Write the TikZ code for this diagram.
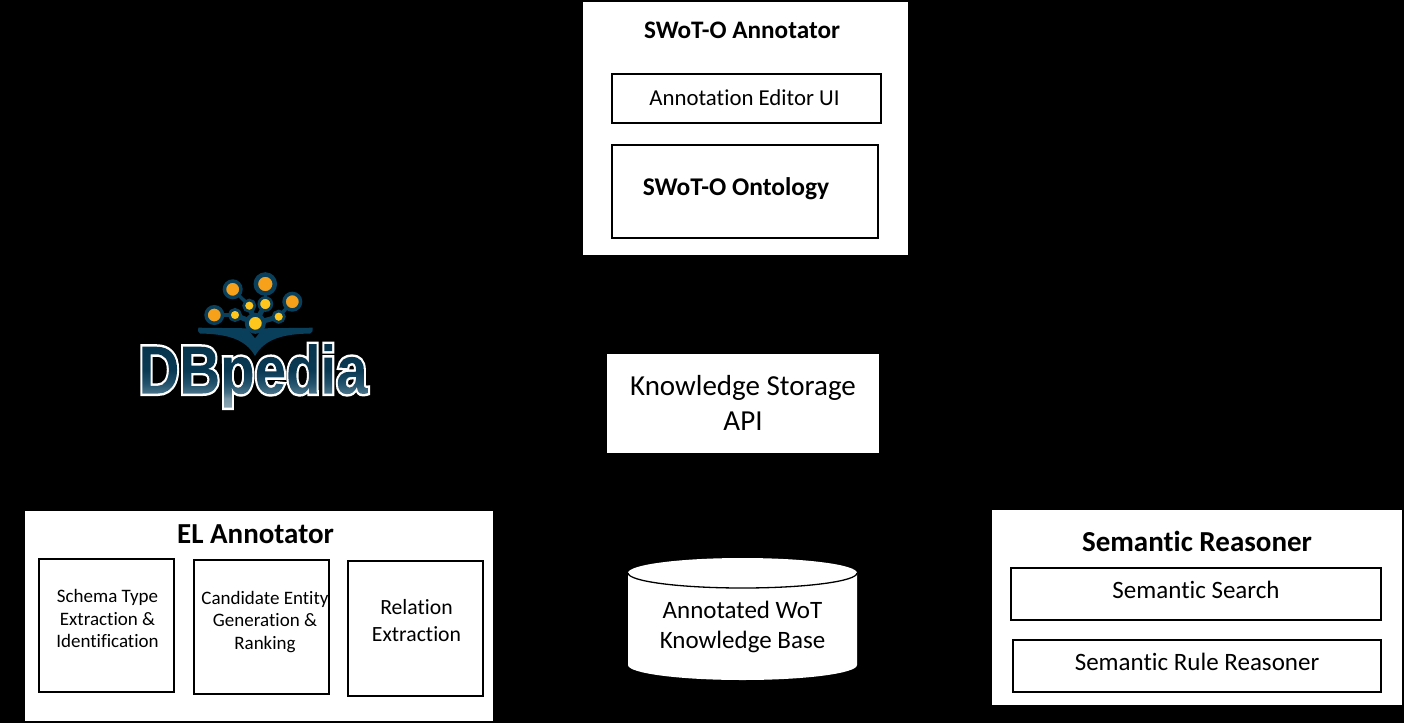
\documentclass[tikz,border=0pt]{standalone}
\usepackage{fontspec}
\setmainfont{Carlito}[Ligatures=CommonOff]
\newfontfamily\logofont{Liberation Sans}
\definecolor{halo}{HTML}{0A3F5C}
\definecolor{orangedot}{HTML}{F7A11B}
\definecolor{yellowdot}{HTML}{FFC71E}
\pgfdeclareverticalshading{dbpshade}{300pt}{color(0pt)=(halo!45!white); color(12pt)=(halo!55!white); color(18pt)=(halo!75!white); color(27pt)=(halo!90!white); color(40pt)=(halo!90!black); color(80pt)=(halo!80!black)}
\tikzset{
  panelbox/.style={fill=white,inner sep=0pt,outer sep=0pt,anchor=north west},
  framebox/.style={draw=black,line width=2pt,fill=white,inner sep=0pt,outer sep=0pt,anchor=north west},
  title/.style={font=\bfseries\fontsize{25.2}{30}\selectfont,inner sep=0pt,text=black},
  bigtitle/.style={font=\bfseries\fontsize{29}{34}\selectfont,inner sep=0pt,text=black},
  label/.style={font=\fontsize{22.8}{27}\selectfont,inner sep=0pt,text=black,align=center},
  small/.style={font=\fontsize{19}{22.5}\selectfont,inner sep=0pt,text=black,align=center},
  big/.style={font=\fontsize{29}{35}\selectfont,inner sep=0pt,text=black,align=center},
  bigdot/.style={circle,fill=orangedot,draw=halo,line width=3.5pt,minimum size=16.5pt,inner sep=0pt},
  smalldot/.style={circle,fill=yellowdot,draw=halo,line width=2.7pt,minimum size=11.3pt,inner sep=0pt},
}
\begin{document}
\begin{tikzpicture}[x=1pt,y=-1pt]
\useasboundingbox (0,0) rectangle (1404,723);
\fill[black] (0,0) rectangle (1404,723);

% SWoT-O annotator
\node[panelbox,minimum width=325pt,minimum height=253pt] (swot) at (583,2) {};
\node[title] (swottitle) at (742,30) {SWoT-O Annotator};
\node[framebox,minimum width=269pt,minimum height=49pt] (editor) at (612,74) {};
\node[label] (editortext) at (744.5,98) {Annotation Editor UI};
\node[framebox,minimum width=266pt,minimum height=93pt] (onto) at (612,145) {};
\node[title,font=\bfseries\fontsize{25.5}{30}\selectfont] (ontotext) at (736,188.5) {SWoT-O Ontology};

% Knowledge storage
\node[panelbox,minimum width=272pt,minimum height=99pt] (storage) at (607,354) {};
\node[big] (storagetext) at (743,403) {Knowledge Storage\\API};

% EL annotator
\node[panelbox,minimum width=468pt,minimum height=210pt] (el) at (25,511) {};
\node[bigtitle] (eltitle) at (255.5,534.5) {EL Annotator};
\node[framebox,minimum width=135pt,minimum height=133pt] (schema) at (39,559) {};
\node[small] (schematext) at (107.5,618.5) {Schema Type\\Extraction \&\\Identification};
\node[framebox,minimum width=135pt,minimum height=134pt] (cand) at (194,560) {};
\node[small] (candtext) at (265,622) {Candidate Entity\\Generation \&\\Ranking};
\node[framebox,minimum width=135pt,minimum height=135pt] (rel) at (348,561) {};
\node[label,font=\fontsize{21.7}{27}\selectfont] (reltext) at (416.5,621) {Relation\\Extraction};

% Semantic reasoner
\node[panelbox,minimum width=410pt,minimum height=195pt] (sr) at (992,510) {};
\node[bigtitle] (srtitle) at (1197,541) {Semantic Reasoner};
\node[framebox,minimum width=370pt,minimum height=52pt] (search) at (1011,568) {};
\node[label,font=\fontsize{25}{30}\selectfont] (searchtext) at (1196,590) {Semantic Search};
\node[framebox,minimum width=368pt,minimum height=52pt] (rule) at (1013,640) {};
\node[label,font=\fontsize{25}{30}\selectfont] (ruletext) at (1197,661.5) {Semantic Rule Reasoner};

% Knowledge base cylinder
\fill[white] (628,573) arc[start angle=180,end angle=0,x radius=114.5pt,y radius=15pt] -- (857,665) arc[start angle=0,end angle=-180,x radius=114.5pt,y radius=15pt] -- cycle;
\draw[black,line width=1.3pt] (628,573) arc[start angle=180,end angle=360,x radius=114.5pt,y radius=15pt];
\node[label,font=\fontsize{25}{29.5}\selectfont] (kb) at (742.5,627) {Annotated WoT\\Knowledge Base};

% DBpedia logo
\coordinate (hub) at (255.3,323.3);
\coordinate (c1) at (232.7,289.3);
\coordinate (c2) at (265.3,284);
\coordinate (c3) at (292.3,301.7);
\coordinate (c4) at (214.3,315);
\coordinate (c5) at (249.3,305.7);
\coordinate (c6) at (265.3,304);
\coordinate (c7) at (235,315);
\coordinate (c8) at (278.7,316.7);
\foreach \a/\b in {c1/c5,c2/c6,c3/c8,c4/c7} \draw[halo,line width=3.5pt] (\a) -- (\b);
\foreach \a in {c5,c6,c7,c8} \draw[halo,line width=5pt] (\a) -- (hub);
\node[circle,fill=yellowdot,draw=halo,line width=4pt,minimum size=17pt,inner sep=0pt] (d9) at (hub) {};
\node[bigdot] (d1) at (c1) {};
\node[bigdot,minimum size=19pt,line width=4.5pt] (d2) at (c2) {};
\node[bigdot] (d3) at (c3) {};
\node[bigdot] (d4) at (c4) {};
\node[smalldot] (d5) at (c5) {};
\node[smalldot,minimum size=13pt] (d6) at (c6) {};
\node[smalldot] (d7) at (c7) {};
\node[smalldot] (d8) at (c8) {};
\fill[halo] (198.3,327.7) -- (246.7,328.3) -- (255,338.3) -- (263.3,328.3) -- (312.7,327.7)
  .. controls (313,331) and (312,333) .. (310,333.5)
  .. controls (285,334) and (265,338) .. (255,356)
  .. controls (245,338) and (225,334) .. (200,333.5) .. controls (198,333) and (198,331) .. (198.3,327.7) -- cycle;
\node[inner sep=0pt,anchor=base west,xscale=0.83,text=halo] (logo) at (138.5,393.5)
  {\fontsize{68}{68}\logofont\bfseries
   \special{pdf:code q 1 1 1 RG 5 w 6 Tr}DBpedia\special{pdf:code 0 Tr}%
   \llap{\smash{\raisebox{-17pt}{\pgfuseshading{dbpshade}}}}\special{pdf:code Q}};
\end{tikzpicture}
\end{document}
